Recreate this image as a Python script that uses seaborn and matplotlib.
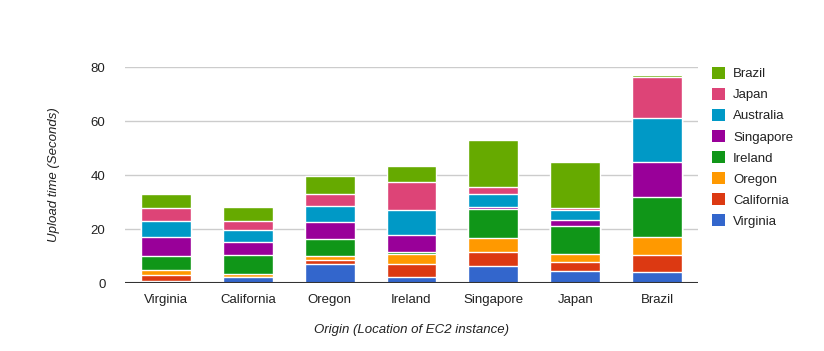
import matplotlib
matplotlib.use("Agg")
import matplotlib.pyplot as plt
import matplotlib.patches as mpatches
import seaborn as sns
import pandas as pd
import numpy as np

# origins (x axis) and destinations (stacked series)
origins = ['Virginia', 'California', 'Oregon', 'Ireland', 'Singapore', 'Japan', 'Brazil']
series = ['Virginia', 'California', 'Oregon', 'Ireland', 'Singapore', 'Australia', 'Japan', 'Brazil']

# upload time in seconds, one list per destination, in origin order
virginia   = [0.6, 2.1, 6.9, 2.1, 6.2, 4.3, 4.2]
california = [2.2, 0.3, 1.5, 4.8, 5.2, 3.3, 6.3]
oregon     = [2.0, 1.1, 1.5, 3.7, 5.2, 3.0, 6.4]
ireland    = [5.1, 6.8, 6.4, 0.7, 10.7, 10.4, 14.8]
singapore  = [7.0, 4.8, 6.2, 6.3, 0.7, 2.2, 13.2]
australia  = [5.9, 4.4, 5.9, 9.6, 4.8, 3.7, 16.3]
japan      = [4.8, 3.3, 4.4, 10.1, 2.6, 0.7, 15.2]
brazil     = [5.5, 5.2, 6.7, 6.2, 17.4, 17.4, 0.6]

colors = ['#3366cc', '#dc3912', '#ff9900', '#109618', '#990099', '#0099c6', '#dd4477', '#66aa00']

values = [virginia, california, oregon, ireland, singapore, australia, japan, brazil]
cum = np.cumsum(np.array(values), axis=0)

plt.rcParams['font.family'] = ['Liberation Sans', 'DejaVu Sans']

fig = plt.figure(figsize=(8.24, 3.51), dpi=100)
ax = fig.add_axes([125 / 824, 1 - 283 / 351, 573 / 824, 216 / 351])

# draw the tallest stack first, then overlay the shorter cumulative bars
for i in range(len(series) - 1, -1, -1):
    df = pd.DataFrame({'origin': origins, 'total': cum[i]})
    sns.barplot(data=df, x='origin', y='total', order=origins, color=colors[i],
                saturation=1, width=0.61, edgecolor='white', linewidth=1,
                ax=ax, zorder=2)

ax.set_ylim(0, 80)
ax.set_xlim(-0.5, len(origins) - 0.5)
ax.set_yticks([0, 20, 40, 60, 80])
ax.yaxis.grid(True, color='#cccccc', linewidth=1, zorder=0)
ax.set_axisbelow(True)
for s in ['top', 'right', 'left', 'bottom']:
    ax.spines[s].set_visible(False)
ax.axhline(0, color='#333333', linewidth=1.5, zorder=5)
ax.tick_params(axis='both', length=0, labelsize=9.5, labelcolor='#222222')
ax.tick_params(axis='x', pad=8)
ax.tick_params(axis='y', pad=14)

ax.set_xlabel('Origin (Location of EC2 instance)', fontsize=9.5, style='italic',
              color='#222222', labelpad=13)
ax.set_ylabel('Upload time (Seconds)', fontsize=9.5, style='italic',
              color='#222222', labelpad=22)

handles = [mpatches.Patch(facecolor=colors[i], edgecolor='none', label=series[i])
           for i in range(len(series) - 1, -1, -1)]
fig.legend(handles=handles, loc='upper left', bbox_to_anchor=(700 / 824, 1 - 55 / 351),
           frameon=False, fontsize=9.5, handlelength=1.0, handleheight=1.0,
           handletextpad=0.6, labelspacing=0.58, labelcolor='#222222')

fig.savefig('out.png', dpi=100)
